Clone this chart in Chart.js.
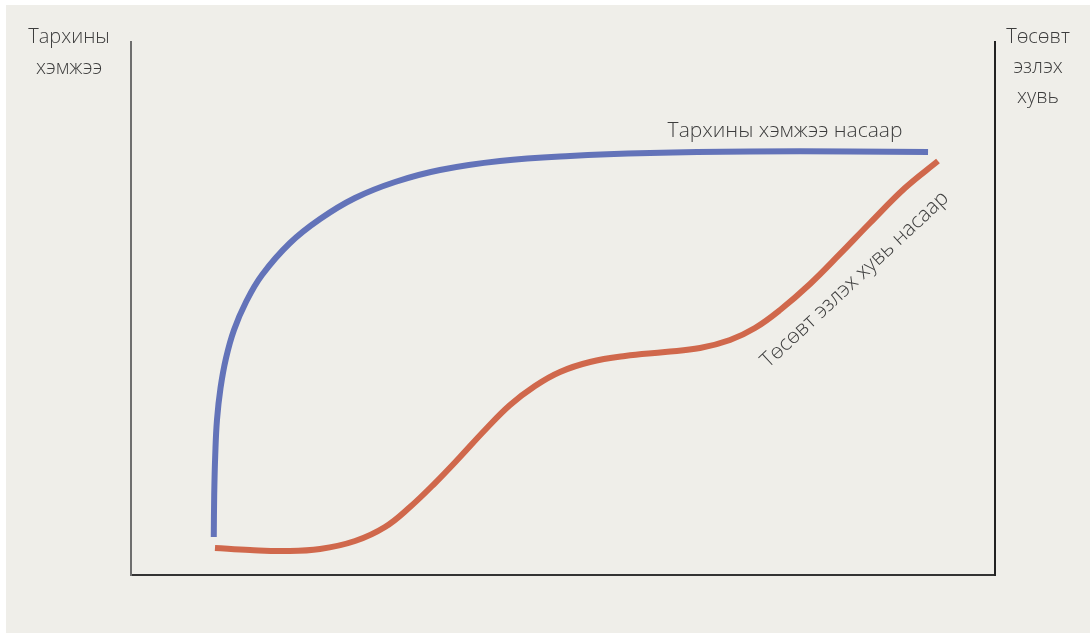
<!DOCTYPE html>
<html>
<head>
<meta charset="utf-8">
<script src="https://cdn.jsdelivr.net/npm/chart.js@4/dist/chart.umd.min.js"></script>
<style>
    html, body { margin: 0; padding: 0; background: #ffffff; }
    #wrap { position: relative; width: 1090px; height: 633px; }
</style>
</head>
<body>
<div id="wrap"><canvas id="chart"></canvas></div>
<script>
// Age axis (0-100) and relative level (0-100)
const brainAge  = [9.58, 9.63, 9.75, 9.95, 10.36, 11.00, 11.92, 13.31, 15.16, 18.40, 21.88, 25.93, 30.56, 35.76, 42.71, 50.81, 60.07, 71.64, 83.22, 92.25];
const brainSize = [7.13, 15.01, 22.51, 29.08, 35.08, 40.71, 45.97, 51.22, 56.29, 62.29, 66.79, 70.73, 73.73, 75.98, 77.67, 78.61, 79.17, 79.46, 79.46, 79.36];

const budgetAge   = [9.72, 13.77, 17.82, 21.88, 25.93, 29.40, 32.29, 35.19, 38.08, 40.97, 43.87, 46.76, 49.65, 53.13, 57.18, 61.81, 65.86, 69.33, 72.22, 75.12, 78.59, 82.06, 85.53, 89.58, 93.40];
const budgetShare = [5.07, 4.69, 4.50, 4.88, 6.38, 9.01, 12.76, 17.26, 22.14, 27.20, 31.89, 35.46, 38.09, 39.96, 41.09, 41.84, 42.59, 44.09, 46.34, 49.72, 54.60, 60.23, 66.04, 72.61, 77.67];

const leftAxisLabel = ['Тархины', 'хэмжээ'];
const rightAxisLabel = ['Төсөвт', 'эзлэх', 'хувь'];
const brainLabel = 'Тархины хэмжээ насаар';
const budgetLabel = 'Төсөвт эзлэх хувь насаар';

const AXIS_FONT = '300 20px "Open Sans", "Noto Sans", sans-serif';
const SERIES_FONT = '300 21px "Open Sans", "Noto Sans", sans-serif';
const TEXT_COLOR = '#3d3d3d';

function toPoints(xs, ys) {
    return xs.map((x, i) => ({ x: x, y: ys[i] }));
}

const backdrop = {
    id: 'backdrop',
    beforeDraw(chart) {
        const ctx = chart.ctx;
        ctx.save();
        ctx.fillStyle = '#ffffff';
        ctx.fillRect(0, 0, chart.width, chart.height);
        ctx.fillStyle = '#efeee9';
        ctx.fillRect(6, 5, chart.width - 6, chart.height - 5);
        ctx.restore();
    }
};

const labels = {
    id: 'labels',
    afterDraw(chart) {
        const ctx = chart.ctx;
        const area = chart.chartArea;
        ctx.save();
        ctx.fillStyle = TEXT_COLOR;
        ctx.textAlign = 'center';
        ctx.textBaseline = 'alphabetic';

        // axis captions above the plot
        ctx.font = AXIS_FONT;
        leftAxisLabel.forEach((t, i) => ctx.fillText(t, area.left - 62, 43 + i * 31));
        rightAxisLabel.forEach((t, i) => ctx.fillText(t, area.right + 43, 43 + i * 30));

        // series captions
        ctx.font = SERIES_FONT;
        ctx.fillText(brainLabel, 785, 137);

        ctx.translate(859, 284);
        ctx.rotate(-43 * Math.PI / 180);
        ctx.fillText(budgetLabel, 0, 0);
        ctx.restore();
    }
};

new Chart(document.getElementById('chart'), {
    type: 'line',
    data: {
        datasets: [
            {
                label: brainLabel,
                data: toPoints(brainAge, brainSize),
                borderColor: '#6373b9',
                borderWidth: 6,
                tension: 0.4,
                pointRadius: 0,
                fill: false
            },
            {
                label: budgetLabel,
                data: toPoints(budgetAge, budgetShare),
                borderColor: '#d0684c',
                borderWidth: 6,
                tension: 0.4,
                pointRadius: 0,
                fill: false
            }
        ]
    },
    options: {
        responsive: true,
        maintainAspectRatio: false,
        animation: false,
        layout: {
            padding: { left: 131, right: 95, top: 42, bottom: 58 }
        },
        plugins: {
            legend: { display: false },
            tooltip: { enabled: false }
        },
        scales: {
            x: {
                type: 'linear',
                min: 0,
                max: 100,
                ticks: { display: false },
                grid: { display: false, drawTicks: false },
                border: { color: '#333333', width: 2 }
            },
            y: {
                position: 'left',
                min: 0,
                max: 100,
                ticks: { display: false },
                grid: { display: false, drawTicks: false },
                border: { color: '#6e6e6e', width: 2 }
            },
            y2: {
                position: 'right',
                min: 0,
                max: 100,
                ticks: { display: false },
                grid: { display: false, drawTicks: false },
                border: { color: '#222222', width: 2 }
            }
        }
    },
    plugins: [backdrop, labels]
});
</script>
</body>
</html>
